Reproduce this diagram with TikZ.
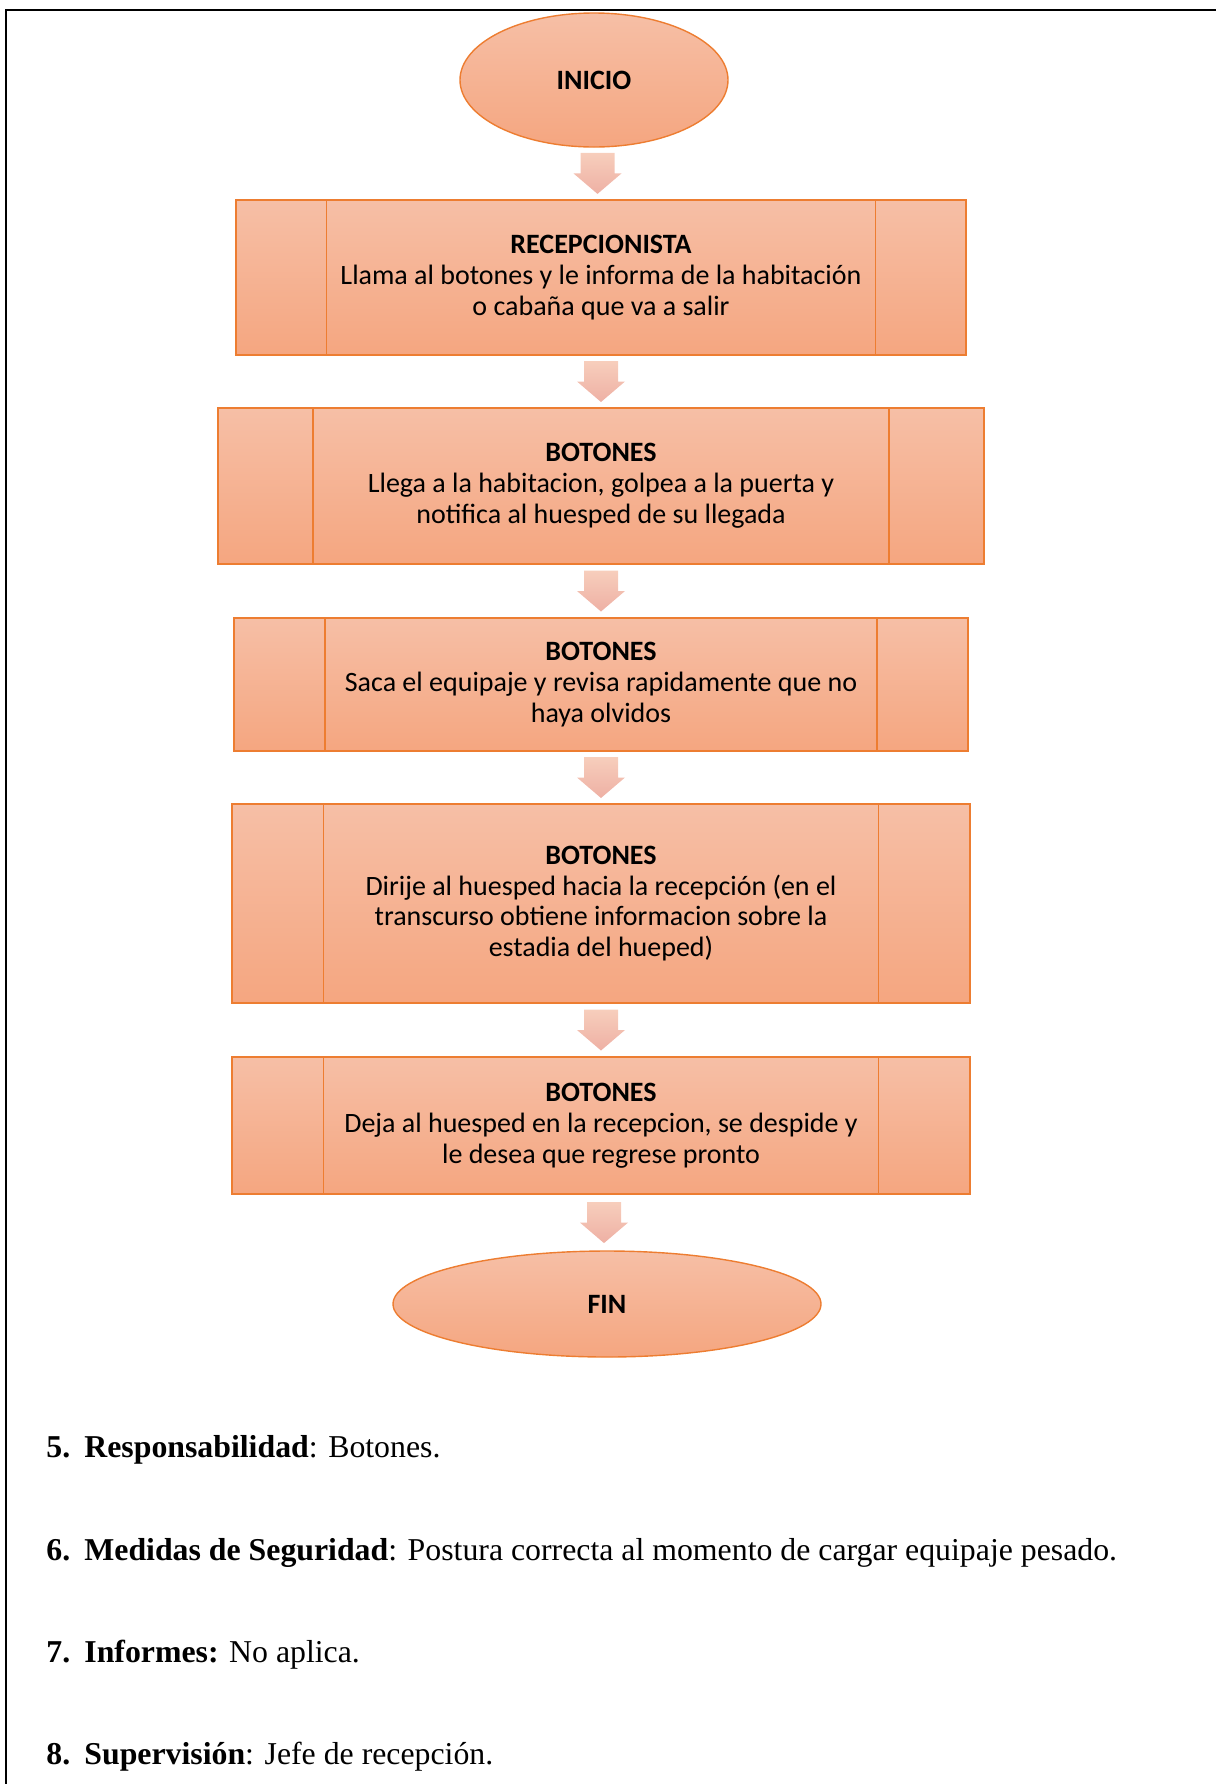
\documentclass[tikz,border=0pt]{standalone}
\usepackage{fontspec}
\setmainfont{Liberation Serif}
\newfontfamily\boxfont{Carlito}
\usetikzlibrary{shapes.geometric,calc}

\definecolor{boxtop}{RGB}{246,191,166}
\definecolor{boxbot}{RGB}{245,166,128}
\definecolor{boxline}{RGB}{237,125,49}
\definecolor{arrtop}{RGB}{247,206,188}
\definecolor{arrbot}{RGB}{238,176,164}

\begin{document}
\begin{tikzpicture}[x=0.5pt,y=-0.5pt,
  procbox/.style={rectangle, draw=boxline, line width=0.9pt, top color=boxtop, bottom color=boxbot, align=center, font=\boxfont\fontsize{14}{15.4}\selectfont, inner sep=0pt},
  termnode/.style={ellipse, draw=boxline, line width=0.7pt, top color=boxtop, bottom color=boxbot, inner sep=0pt, font=\boxfont\bfseries\fontsize{14}{15}\selectfont},
  blockarrow/.style={draw=none, top color=arrtop, bottom color=arrbot},
  divider/.style={draw=boxline, line width=0.9pt},
  itemtext/.style={anchor=base west, inner sep=0pt, font=\fontsize{15.9}{18}\selectfont}
]
\useasboundingbox (0,0) rectangle (1216,1784);
\draw[line width=1.2pt] (6,1784) -- (6,10) -- (1216,10);

\node[termnode, minimum width=134pt, minimum height=67pt] (inicio) at (594,80) {INICIO};
\node[procbox, minimum width=365pt, minimum height=77.5pt] (b1) at (601,277.5) {\textbf{RECEPCIONISTA}\\Llama al botones y le informa de la habitación\\o cabaña que va a salir};
\node[procbox, minimum width=383pt, minimum height=78pt] (b2) at (601,486) {\textbf{BOTONES}\\Llega a la habitacion, golpea a la puerta y\\notifica al huesped de su llegada};
\node[procbox, minimum width=367pt, minimum height=66.5pt] (b3) at (601,684.5) {\textbf{BOTONES}\\Saca el equipaje y revisa rapidamente que no\\haya olvidos};
\node[procbox, minimum width=369pt, minimum height=99.5pt] (b4) at (601,903.5) {\textbf{BOTONES}\\Dirije al huesped hacia la recepción (en el\\transcurso obtiene informacion sobre la\\estadia del hueped)};
\node[procbox, minimum width=369pt, minimum height=68.5pt] (b5) at (601,1125.5) {\textbf{BOTONES}\\Deja al huesped en la recepcion, se despide y\\le desea que regrese pronto};
\node[termnode, minimum width=214pt, minimum height=53pt] (fin) at (607,1304) {FIN};

\foreach \b in {b1,b2,b3,b4,b5}{
  \draw[divider] ($(\b.north west)!0.125!(\b.north east)$) -- ($(\b.south west)!0.125!(\b.south east)$);
  \draw[divider] ($(\b.north west)!0.875!(\b.north east)$) -- ($(\b.south west)!0.875!(\b.south east)$);
}

\coordinate (a1) at ($(inicio.south)!0.5!(b1.north)$);
\coordinate (a2) at ($(b1.south)!0.5!(b2.north)$);
\coordinate (a3) at ($(b2.south)!0.5!(b3.north)$);
\coordinate (a4) at ($(b3.south)!0.5!(b4.north)$);
\coordinate (a5) at ($(b4.south)!0.5!(b5.north)$);
\coordinate (a6) at ($(b5.south)!0.5!(fin.north)$);
\foreach \a in {a1,a2,a3,a4,a5,a6}{
  \path[blockarrow] ($(\a)+(-17,-20.5)$) -- ($(\a)+(17,-20.5)$) -- ($(\a)+(17,0)$) -- ($(\a)+(24,0)$)
    -- ($(\a)+(0,20.5)$) -- ($(\a)+(-24,0)$) -- ($(\a)+(-17,0)$) -- cycle;
}

\node[itemtext] (n5) at (46,1457) {\textbf{5.}};
\node[itemtext] (t5) at (84,1457) {\textbf{Responsabilidad}: Botones.};
\node[itemtext] (n6) at (46,1560) {\textbf{6.}};
\node[itemtext] (t6) at (84,1560) {\textbf{Medidas de Seguridad}: Postura correcta al momento de cargar equipaje pesado.};
\node[itemtext] (n7) at (46,1662) {\textbf{7.}};
\node[itemtext] (t7) at (84,1662) {\textbf{Informes:} No aplica.};
\node[itemtext] (n8) at (46,1764) {\textbf{8.}};
\node[itemtext] (t8) at (84,1764) {\textbf{Supervisión}: Jefe de recepción.};
\end{tikzpicture}
\end{document}
